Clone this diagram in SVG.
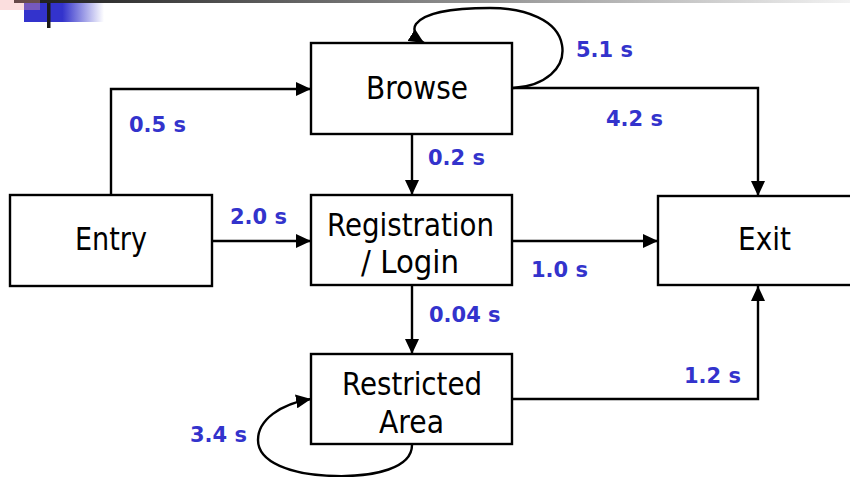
<svg xmlns="http://www.w3.org/2000/svg" width="850" height="477" viewBox="0 0 850 477">
  <defs>
    <linearGradient id="topRule" x1="0" y1="0" x2="1" y2="0">
      <stop offset="0" stop-color="#1a1a1a"/>
      <stop offset="1" stop-color="#f2f2f2"/>
    </linearGradient>
    <linearGradient id="blueFade" x1="24" y1="0" x2="104" y2="0" gradientUnits="userSpaceOnUse">
      <stop offset="0.48" stop-color="#3333cc"/>
      <stop offset="1" stop-color="#3333cc" stop-opacity="0"/>
    </linearGradient>
    <marker id="arrow" markerUnits="userSpaceOnUse" markerWidth="16" markerHeight="14" refX="15" refY="7" orient="auto">
      <path d="M0,0 L15,7 L0,14 z" fill="#000"/>
    </marker>
  </defs>
  <style>
    .box { fill: #fff; stroke: #000; stroke-width: 2.4; }
    .name { font-family: "DejaVu Sans", Verdana, sans-serif; font-size: 32px; fill: #000; }
    .time { font-family: "DejaVu Sans", Verdana, sans-serif; font-size: 21px; font-weight: bold; fill: #3333cc; }
    .edge { fill: none; stroke: #000; stroke-width: 2.4; marker-end: url(#arrow); }
    .plain { fill: none; stroke: #000; stroke-width: 2.4; }
  </style>
  <rect width="850" height="477" fill="#fff"/>

  <!-- header ornament -->
  <g id="header">
    <rect x="14" y="0" width="836" height="3" fill="url(#topRule)"/>
    <rect x="24" y="3" width="80" height="19" fill="url(#blueFade)"/>
    <rect x="0" y="0" width="40" height="10" fill="#f4a0a0" fill-opacity="0.35"/>
    <rect x="47" y="3" width="3.5" height="25" fill="#1a1a1a"/>
  </g>

  <!-- transitions -->
  <g id="connectors">
    <path class="edge" d="M111,195 V89 H311"/>
    <path class="edge" d="M212,241 H311"/>
    <path class="edge" d="M412,134 V195"/>
    <path class="edge" d="M412,285 V354"/>
    <path class="edge" d="M512,241 H658"/>
    <path class="edge" d="M512,88 H758 V196"/>
    <path class="edge" d="M512,399 H758 V286"/>
    <path class="edge" d="M513,88 C545,86 566,68 562,45 C558,20 525,8 490,8 C455,8 425,12 416,24 C412,30 416,38 424,43"/>
    <path class="edge" d="M412,445 C412,468 375,477 335,476 C290,475 258,462 258,440 C258,420 280,404 311,399"/>
  </g>

  <g id="browse">
    <rect class="box" x="311" y="43" width="201" height="91"/>
    <text class="name" x="366" y="99" textLength="102" lengthAdjust="spacingAndGlyphs">Browse</text>
  </g>
  <g id="entry">
    <rect class="box" x="10" y="195" width="202" height="91"/>
    <text class="name" x="75" y="250" textLength="72" lengthAdjust="spacingAndGlyphs">Entry</text>
  </g>
  <g id="registration">
    <rect class="box" x="311" y="195" width="201" height="90"/>
    <text class="name" x="327" y="236" textLength="167" lengthAdjust="spacingAndGlyphs">Registration</text>
    <text class="name" x="361" y="273" textLength="98" lengthAdjust="spacingAndGlyphs">/ Login</text>
  </g>
  <g id="exit">
    <rect class="box" x="658" y="196" width="214" height="89"/>
    <text class="name" x="738" y="250" textLength="53" lengthAdjust="spacingAndGlyphs">Exit</text>
  </g>
  <g id="restricted">
    <rect class="box" x="311" y="354" width="201" height="90"/>
    <text class="name" x="342" y="395" textLength="140" lengthAdjust="spacingAndGlyphs">Restricted</text>
    <text class="name" x="379" y="433" textLength="65" lengthAdjust="spacingAndGlyphs">Area</text>
  </g>

  <!-- mean times -->
  <g id="labels">
    <text class="time" x="129" y="132">0.5 s</text>
    <text class="time" x="576" y="57">5.1 s</text>
    <text class="time" x="606" y="126">4.2 s</text>
    <text class="time" x="428" y="165">0.2 s</text>
    <text class="time" x="230" y="224">2.0 s</text>
    <text class="time" x="531" y="277">1.0 s</text>
    <text class="time" x="429" y="322">0.04 s</text>
    <text class="time" x="684" y="383">1.2 s</text>
    <text class="time" x="190" y="442">3.4 s</text>
  </g>
</svg>
